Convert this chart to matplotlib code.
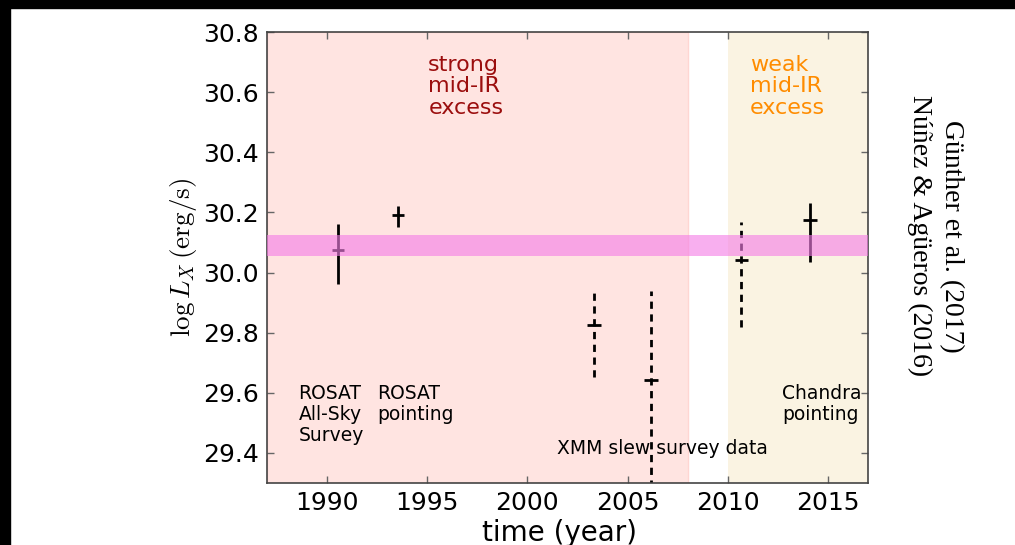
import matplotlib
matplotlib.use("Agg")
import matplotlib.pyplot as plt
from matplotlib.patches import Rectangle

# X-ray luminosity measurements of the star over time
obs_year = [1990.53, 1993.53, 2003.32, 2006.15, 2010.67, 2014.10]
log_lx = [30.074, 30.192, 29.824, 29.643, 30.041, 30.174]
log_lx_err_lo = [0.113, 0.040, 0.172, 0.400, 0.222, 0.139]
log_lx_err_hi = [0.089, 0.029, 0.123, 0.296, 0.126, 0.058]
year_err = [0.30, 0.30, 0.33, 0.35, 0.33, 0.33]
mission = ["ROSAT", "ROSAT", "XMM", "XMM", "XMM", "Chandra"]

# quiescent level band
band_lo, band_hi = 30.055, 30.125

# epochs of infrared excess
strong_ir_span = (1987.0, 2008.0)
weak_ir_span = (2010.0, 2017.0)

xlim = (1987.0, 2017.0)
ylim = (29.3, 30.8)
xticks = [1990, 1995, 2000, 2005, 2010, 2015]
yticks = [29.4, 29.6, 29.8, 30.0, 30.2, 30.4, 30.6, 30.8]

plt.rcParams["mathtext.fontset"] = "cm"

fig = plt.figure(figsize=(10.15, 5.45), dpi=100)
fig.patch.set_facecolor("white")
ax = fig.add_axes([267 / 1015, 62 / 545, 601 / 1015, 451 / 545])

ax.axvspan(*strong_ir_span, facecolor="#ffe4e1", edgecolor="#ffd6d2", lw=1, zorder=0)
ax.axvspan(*weak_ir_span, facecolor="#faf3e2", edgecolor="none", zorder=0)

for i in range(len(obs_year)):
    eb = ax.errorbar(obs_year[i], log_lx[i],
                     yerr=[[log_lx_err_lo[i]], [log_lx_err_hi[i]]],
                     xerr=year_err[i], fmt="none", ecolor="black",
                     elinewidth=2, capsize=0, zorder=2)
    if mission[i] == "XMM":
        eb[2][1].set_linestyle((0, (2.6, 2.0)))

ax.fill_between(list(xlim), [band_lo, band_lo], [band_hi, band_hi],
                color="#f57ee6", alpha=0.62, lw=0, zorder=3)

ax.text(1995.05, 30.725, "strong\nmid-IR\nexcess", color="#9b0d0d",
        fontsize=16, va="top", ha="left", linespacing=1.12)
ax.text(2011.1, 30.725, "weak\nmid-IR\nexcess", color="#ff8c00",
        fontsize=16, va="top", ha="left", linespacing=1.12)
ax.text(1988.57, 29.628, "ROSAT\nAll-Sky\nSurvey", fontsize=13.5,
        va="top", ha="left", linespacing=1.12)
ax.text(1992.48, 29.628, "ROSAT\npointing", fontsize=13.5,
        va="top", ha="left", linespacing=1.12)
ax.text(2012.7, 29.628, "Chandra\npointing", fontsize=13.5,
        va="top", ha="left", linespacing=1.12)
ax.text(2001.5, 29.398, "XMM slew survey data", fontsize=13.5,
        va="baseline", ha="left")

ax.set_xlim(*xlim)
ax.set_ylim(*ylim)
ax.set_xticks(xticks)
ax.set_yticks(yticks)
ax.set_yticklabels([f"{v:.1f}" for v in yticks])
ax.tick_params(direction="in", length=5, width=1, color="#666666",
               labelsize=18, top=True, right=True, pad=6)
for s in ax.spines.values():
    s.set_color("#444444")
    s.set_linewidth(1.2)

ax.set_xlabel("time (year)", fontsize=20, va="center")
ax.xaxis.set_label_coords((560 - 267) / 601, -(533 - 483) / 451)
ax.set_ylabel(r"$\log L_X\,(\mathrm{erg/s})$", fontsize=19.5, labelpad=3)

fig.text(935 / 1015, 1 - 236 / 545, "Günther et al. (2017)\nNúñez & Agüeros (2016)",
         family="Liberation Serif", fontsize=20, rotation=270,
         ha="center", va="center", multialignment="center", linespacing=1.35)

# dark frame along the top and left edges
fig.patches.append(Rectangle((0, 1 - 8 / 545), 1, 8 / 545,
                             transform=fig.transFigure, color="black", zorder=10))
fig.patches.append(Rectangle((0, 0), 10 / 1015, 1,
                             transform=fig.transFigure, color="black", zorder=10))

fig.savefig("out.png", dpi=100, facecolor="white")
